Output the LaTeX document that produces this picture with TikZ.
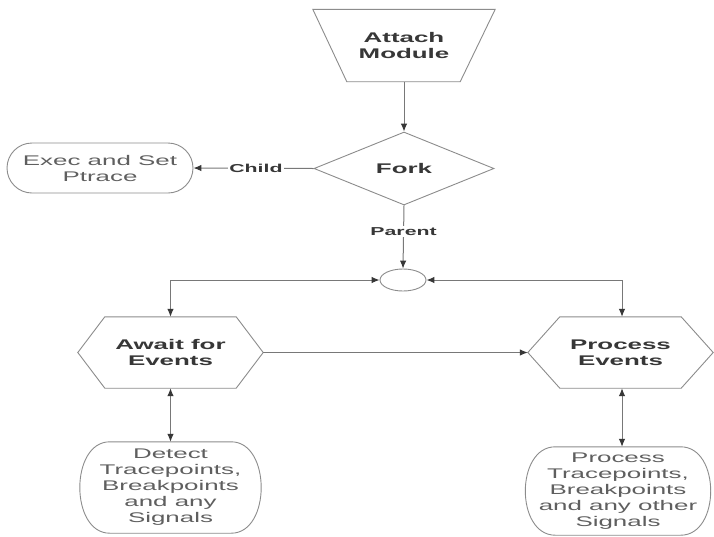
\documentclass[tikz,border=0pt]{standalone}
\usepackage{fontspec}
\setmainfont[FakeStretch=1.85]{Liberation Sans}
\usetikzlibrary{shapes.geometric,arrows.meta,calc}
\definecolor{linegray}{RGB}{120,120,120}
\definecolor{shapegray}{RGB}{140,140,140}
\definecolor{tipgray}{RGB}{55,55,55}
\definecolor{textbold}{RGB}{55,55,55}
\definecolor{textplain}{RGB}{95,95,95}
\begin{document}
\begin{tikzpicture}[x=1pt,y=-1pt,
  outline/.style={draw=shapegray, line width=0.9pt},
  conn/.style={draw=linegray, line width=1pt},
  arr/.style={conn, -{Latex[length=8pt,width=6.5pt,color=tipgray]}},
  darr/.style={conn, {Latex[length=8pt,width=6.5pt,color=tipgray]}-{Latex[length=8pt,width=6.5pt,color=tipgray]}},
  tbold/.style={font=\bfseries\fontsize{14}{16}\selectfont, text=textbold, align=center, inner sep=0pt},
  tplain/.style={font=\fontsize{14}{16}\selectfont, text=textplain, align=center, inner sep=0pt},
  lbl/.style={font=\bfseries\fontsize{11.5}{13}\selectfont, text=textbold, fill=white, inner sep=1.5pt}
]
\useasboundingbox (0,0) rectangle (714,536);
\fill[white] (0,0) rectangle (714,536);

% Attach Module (trapezoid)
\node[tbold, minimum width=182pt, minimum height=72pt] (attach) at (404,45.5) {Attach\\Module};
\draw[outline] (attach.north west) -- (attach.north east) -- ([xshift=-35pt]attach.south east) -- ([xshift=34pt]attach.south west) -- cycle;

% Fork (diamond)
\node[diamond, outline, tbold, aspect=2.5, minimum width=180pt, minimum height=73pt] (fork) at (404,168.5) {Fork};

% Exec and Set Ptrace
\node[tplain, outline, minimum width=186pt, minimum height=50pt, rounded corners=25pt] (exec) at (100,168) {Exec and Set\\Ptrace};

% join ellipse
\node[ellipse, outline, minimum width=46pt, minimum height=22pt, inner sep=0pt] (join) at (403,280) {};

% Hexagons
\node[tbold, minimum width=185pt, minimum height=71pt] (await) at (170.5,352.5) {Await for\\Events};
\draw[outline] (await.west) -- ([xshift=27pt]await.north west) -- ([xshift=-27pt]await.north east) -- (await.east) -- ([xshift=-27pt]await.south east) -- ([xshift=27pt]await.south west) -- cycle;
\node[tbold, minimum width=185pt, minimum height=71pt] (proc) at (620.5,352.5) {Process\\Events};
\draw[outline] (proc.west) -- ([xshift=32pt]proc.north west) -- ([xshift=-32pt]proc.north east) -- (proc.east) -- ([xshift=-32pt]proc.south east) -- ([xshift=32pt]proc.south west) -- cycle;

% Bottom boxes
\node[tplain, minimum width=185pt, minimum height=91pt] (detect) at (170.5,487.5) {Detect\\Tracepoints,\\Breakpoints\\and any\\Signals};
\draw[outline] ([xshift=32pt]detect.north west) -- ([xshift=-32pt]detect.north east)
  .. controls ([xshift=8pt]detect.north east) and ([xshift=8pt]detect.south east) .. ([xshift=-32pt]detect.south east)
  -- ([xshift=32pt]detect.south west)
  .. controls ([xshift=-8pt]detect.south west) and ([xshift=-8pt]detect.north west) .. cycle;
\node[tplain, minimum width=189pt, minimum height=88pt] (pbox) at (618,491) {Process\\Tracepoints,\\Breakpoints\\and any other\\Signals};
\draw[outline] ([xshift=32pt]pbox.north west) -- ([xshift=-32pt]pbox.north east)
  .. controls ([xshift=8pt]pbox.north east) and ([xshift=8pt]pbox.south east) .. ([xshift=-32pt]pbox.south east)
  -- ([xshift=32pt]pbox.south west)
  .. controls ([xshift=-8pt]pbox.south west) and ([xshift=-8pt]pbox.north west) .. cycle;

% Connectors
\draw[arr] (attach.south) -- (fork.north);
\draw[arr] (fork.west) -- node[lbl, pos=0.48] {Child} (exec.east);
\draw[arr] (fork.south) -- node[lbl, pos=0.42] {Parent} (join.north);
\draw[darr] (join.west) -| (await.north);
\draw[darr] (join.east) -| ([xshift=1.5pt]proc.north);
\draw[arr] (await.east) -- (proc.west);
\draw[darr] (await.south) -- (detect.north);
\draw[darr] ([xshift=1.5pt]proc.south) -- ([xshift=1.5pt]proc.south |- pbox.north);
\end{tikzpicture}
\end{document}
